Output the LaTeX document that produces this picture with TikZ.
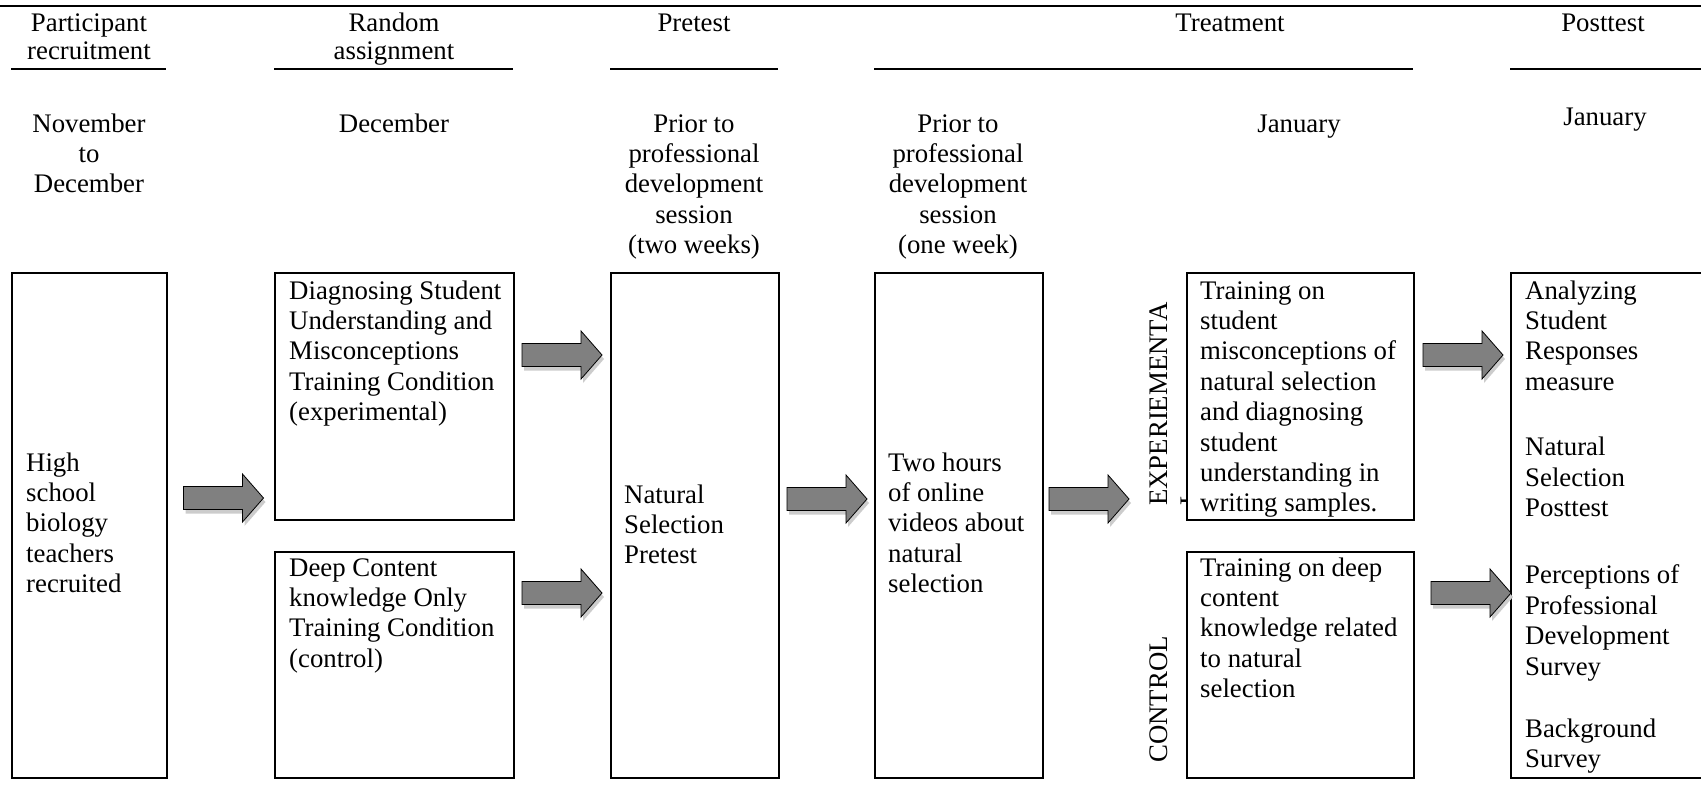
\documentclass[tikz,border=0pt]{standalone}
\usepackage{fontspec}
\setmainfont{Liberation Serif}
\tikzset{
  barrow/.pic={
    \fill[gray!40, shift={(2,4)}] (-40,-11.5) -- (19,-11.5) -- (19,-24) -- (40,0) -- (19,24) -- (19,11.5) -- (-40,11.5) -- cycle;
    \draw[fill=gray, line width=0.8pt] (-40,-11.5) -- (19,-11.5) -- (19,-24) -- (40,0) -- (19,24) -- (19,11.5) -- (-40,11.5) -- cycle;
  }
}
\begin{document}
\begin{tikzpicture}[x=1pt,y=-1pt,
  box/.style={draw, line width=2.3pt, fill=white, rectangle, inner sep=0pt, anchor=north west},
  txt/.style={font=\fontsize{26.8}{30.4}\selectfont, inner sep=0pt, align=left, anchor=north west},
  ctxt/.style={font=\fontsize{26.8}{30.4}\selectfont, inner sep=0pt, align=center, anchor=north},
  htxt/.style={font=\fontsize{26.8}{28}\selectfont, inner sep=0pt, align=center, anchor=north},
  rulestyle/.style={line width=2.5pt},
  vtxt/.style={font=\fontsize{26.8}{30.4}\selectfont, inner sep=0pt, rotate=90, anchor=base west}
]
\useasboundingbox (0,0) rectangle (1701,806);
\clip (0,0) rectangle (1701,806);

% top rule
\coordinate (topL) at (0,6);
\coordinate (topR) at (1701,6);
\draw[rulestyle] (topL) -- (topR);

% headers
\node[htxt] (h1) at (89,12) {\strut Participant\\recruitment};
\node[htxt] (h2) at (394,12) {\strut Random\\assignment};
\node[htxt] (h3) at (694,12) {\strut Pretest};
\node[htxt] (h4) at (1230,12) {\strut Treatment};
\node[htxt] (h5) at (1603,12) {\strut Posttest};

% underlines
\coordinate (u1a) at (11,69);   \coordinate (u1b) at (166,69);
\coordinate (u2a) at (274,69);  \coordinate (u2b) at (513,69);
\coordinate (u3a) at (610,69);  \coordinate (u3b) at (778,69);
\coordinate (u4a) at (874,69);  \coordinate (u4b) at (1413,69);
\coordinate (u5a) at (1510,69); \coordinate (u5b) at (1701,69);
\draw[rulestyle] (u1a) -- (u1b);
\draw[rulestyle] (u2a) -- (u2b);
\draw[rulestyle] (u3a) -- (u3b);
\draw[rulestyle] (u4a) -- (u4b);
\draw[rulestyle] (u5a) -- (u5b);

% dates
\node[ctxt] (d1) at (89,110.7) {\strut November\\to\\December};
\node[ctxt] (d2) at (394,110.7) {\strut December};
\node[ctxt] (d3) at (694,110.7) {\strut Prior to\\professional\\development\\session\\(two weeks)};
\node[ctxt] (d4) at (958,110.7) {\strut Prior to\\professional\\development\\session\\(one week)};
\node[ctxt] (d5) at (1299,110.7) {\strut January};
\node[ctxt] (d6) at (1605,103.7) {\strut January};

% vertical labels (drawn before boxes so the box hides the wrapped L)
\node[vtxt] (vexp) at (1167.5,506) {EXPERIEMENTA};
\node[vtxt] (vexpL) at (1198,506) {L};
\node[vtxt] (vcon) at (1167.5,763) {CONTROL};

% boxes
\node[box, minimum width=155pt, minimum height=505pt] (b1) at (11,272) {};
\node[box, minimum width=239pt, minimum height=247pt] (b2) at (274,272) {};
\node[box, minimum width=239pt, minimum height=226pt] (b3) at (274,551) {};
\node[box, minimum width=168pt, minimum height=505pt] (b4) at (610,272) {};
\node[box, minimum width=168pt, minimum height=505pt] (b5) at (874,272) {};
\node[box, minimum width=227pt, minimum height=247pt] (t1) at (1186,272) {};
\node[box, minimum width=227pt, minimum height=226pt] (t2) at (1186,551) {};
\node[box, minimum width=230pt, minimum height=505pt] (p1) at (1510,272) {};

% box texts
\node[txt] (b1t) at (26,449.7) {\strut High\\school\\biology\\teachers\\recruited};
\node[txt] (b2t) at (289,277.7) {\strut Diagnosing Student\\Understanding and\\Misconceptions\\Training Condition\\(experimental)};
\node[txt] (b3t) at (289,554.7) {\strut Deep Content\\knowledge Only\\Training Condition\\(control)};
\node[txt] (b4t) at (624,481.7) {\strut Natural\\Selection\\Pretest};
\node[txt] (b5t) at (888,449.7) {\strut Two hours\\of online\\videos about\\natural\\selection};
\node[txt] (t1t) at (1200,277.7) {\strut Training on\\student\\misconceptions of\\natural selection\\and diagnosing\\student\\understanding in\\writing samples.};
\node[txt] (t2t) at (1200,554.7) {\strut Training on deep\\content\\knowledge related\\to natural\\selection};
\node[txt] (p1t) at (1525,277.7) {\strut Analyzing\\Student\\Responses\\measure\\[35pt]Natural\\Selection\\Posttest\\[37pt]Perceptions of\\Professional\\Development\\Survey\\[32pt]Background\\Survey};

% block arrows
\pic (a1) at (223.5,498) {barrow};
\pic (a2) at (562,355) {barrow};
\pic (a3) at (562,593) {barrow};
\pic (a4) at (827,499) {barrow};
\pic (a5) at (1089,499) {barrow};
\pic (a6) at (1463,355) {barrow};
\pic (a7) at (1471,593) {barrow};
\end{tikzpicture}
\end{document}
